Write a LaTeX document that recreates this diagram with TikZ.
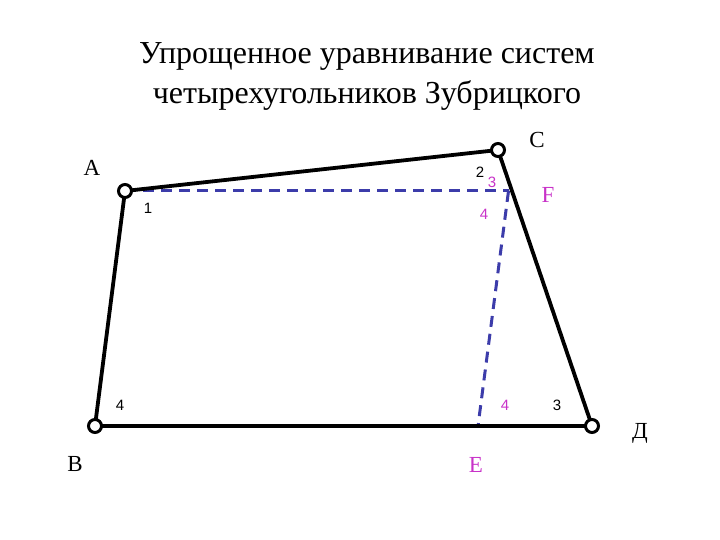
\documentclass[tikz,border=0pt]{standalone}
\usepackage{fontspec}
\setmainfont{Liberation Serif}
\newfontfamily\numfont{Liberation Sans}
\definecolor{dashblue}{RGB}{60,60,170}
\definecolor{mag}{RGB}{200,50,200}
\begin{document}
\begin{tikzpicture}[x=1pt,y=-1pt,
  edge/.style={line width=3.8pt,black},
  aux/.style={line width=3pt,dashblue,dash pattern=on 11pt off 7pt},
  pt/.style={circle,draw=black,line width=3pt,fill=white,minimum size=13pt,inner sep=0pt},
  lbl/.style={font=\fontsize{23}{25}\selectfont},
  num/.style={font=\numfont\fontsize{15}{17}\selectfont}]
\useasboundingbox (0,0) rectangle (720,540);
\node[align=center,font=\fontsize{32}{40}\selectfont] (title) at (367,76) {Упрощенное уравнивание систем\\четырехугольников Зубрицкого};
\coordinate (A) at (125,191);
\coordinate (C) at (498,150);
\coordinate (B) at (95,426);
\coordinate (D) at (592,426);
\coordinate (F) at (508.5,191);
\coordinate (E) at (478,426);
\draw[aux] (A) -- (F);
\draw[aux] (F) -- (E);
\draw[edge] (A) -- (C) -- (D) -- (B) -- cycle;
\node[pt] (nA) at (A) {};
\node[pt] (nC) at (C) {};
\node[pt] (nB) at (B) {};
\node[pt] (nD) at (D) {};
\node[lbl] (lA) at (92,168) {A};
\node[lbl] (lC) at (537,140) {C};
\node[lbl] (lB) at (75,464) {B};
\node[lbl] (lD) at (640,433) {Д};
\node[lbl,mag] (lE) at (476,465) {E};
\node[lbl,mag] (lF) at (548,195) {F};
\node[num] (n1) at (148,208) {1};
\node[num] (n2) at (480,172) {2};
\node[num,mag] (n3) at (492,182) {3};
\node[num,mag] (n4a) at (484,214) {4};
\node[num] (n4b) at (120,405) {4};
\node[num,mag] (n4c) at (505,405) {4};
\node[num] (n3b) at (557,405) {3};
\end{tikzpicture}
\end{document}
